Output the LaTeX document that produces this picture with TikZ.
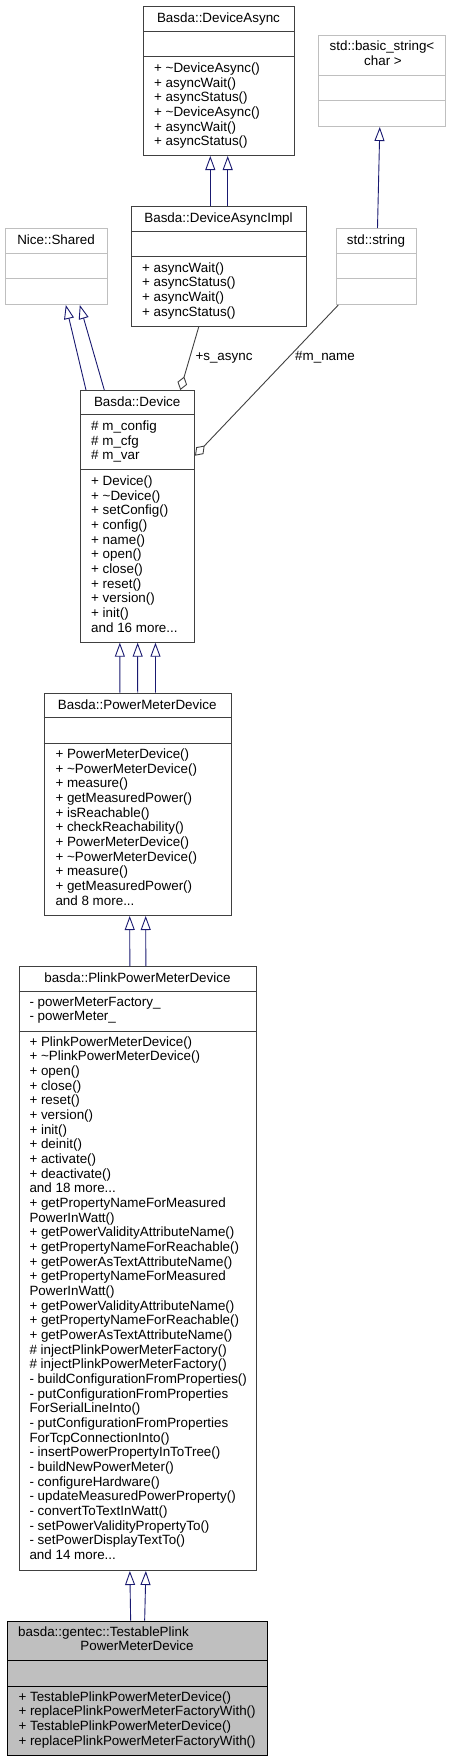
\documentclass[tikz,border=0pt]{standalone}
\usepackage{fontspec}
\setmainfont{Liberation Sans}
\usetikzlibrary{arrows.meta,calc}
\definecolor{edgeblue}{RGB}{25,25,112}
\definecolor{docline}{RGB}{64,64,64}
\definecolor{extline}{RGB}{191,191,191}
\newcommand{\threedots}{...}
\begin{document}
\begin{tikzpicture}[x=1pt, y=-1pt, line cap=butt, line join=miter]
	\tikzset{
		box_base/.style={line width=1pt, inner sep=0pt, anchor=north west},
		doc_box/.style={box_base, draw=docline, fill=white}, % documented class
		ext_box/.style={box_base, draw=extline, fill=white}, % external class
		cur_box/.style={box_base, draw=black, fill=extline}, % the class itself
		sep_doc/.style={line width=1pt, draw=docline},
		sep_ext/.style={line width=1pt, draw=extline},
		title/.style={inner sep=0pt, text height=9.7pt, text depth=2.8pt, font=\fontsize{13.4}{14.67}\selectfont},
		member/.style={title, anchor=west},
		inherit/.style={draw=edgeblue, line width=0.9pt, -{Triangle[open, length=14pt, width=10pt]}},
		aggr/.style={draw=docline, line width=0.9pt, -{Diamond[open, length=14pt, width=10pt]}}
	}
	\useasboundingbox (0,0) rectangle (450,1761);

	% Basda::DeviceAsync
	\node[doc_box, minimum width=151pt, minimum height=149pt] (async) at (143,6) {};
	\draw[sep_doc] ($(async.north west)+(0,25.7)$) -- ($(async.north east)+(0,25.7)$);
	\draw[sep_doc] ($(async.north west)+(0,50.7)$) -- ($(async.north east)+(0,50.7)$);
	\node[title] (async-t) at (218.5,19) {Basda::DeviceAsync};
	\foreach \txt [count=\i from 0] in {+ \textasciitilde DeviceAsync(), + asyncWait(), + asyncStatus(),
		+ \textasciitilde DeviceAsync(), + asyncWait(), + asyncStatus()}
		\node[member] (async-m\i) at (154,69+14.67*\i) {\txt};

	% std::basic_string< char >
	\node[ext_box, minimum width=127pt, minimum height=91pt] (bstr) at (318,35) {};
	\draw[sep_ext] ($(bstr.north west)+(0,40.3)$) -- ($(bstr.north east)+(0,40.3)$);
	\draw[sep_ext] ($(bstr.north west)+(0,65.3)$) -- ($(bstr.north east)+(0,65.3)$);
	\node[title] (bstr-t1) at (382,47.5) {std::basic\_string<};
	\node[title] (bstr-t2) at (383,62.5) {char >};

	% Basda::DeviceAsyncImpl
	\node[doc_box, minimum width=175pt, minimum height=120pt] (dai) at (131,206) {};
	\draw[sep_doc] ($(dai.north west)+(0,25)$) -- ($(dai.north east)+(0,25)$);
	\draw[sep_doc] ($(dai.north west)+(0,50.7)$) -- ($(dai.north east)+(0,50.7)$);
	\node[title] (dai-t) at (218.5,219) {Basda::DeviceAsyncImpl};
	\foreach \txt [count=\i from 0] in {+ asyncWait(), + asyncStatus(), + asyncWait(), + asyncStatus()}
		\node[member] (dai-m\i) at (142,268.7+14.67*\i) {\txt};

	% Nice::Shared
	\node[ext_box, minimum width=102pt, minimum height=76pt] (shared) at (5,228) {};
	\draw[sep_ext] ($(shared.north west)+(0,25.3)$) -- ($(shared.north east)+(0,25.3)$);
	\draw[sep_ext] ($(shared.north west)+(0,50.7)$) -- ($(shared.north east)+(0,50.7)$);
	\node[title] (shared-t) at (56,241) {Nice::Shared};

	% std::string
	\node[ext_box, minimum width=80pt, minimum height=76pt] (str) at (336,228) {};
	\draw[sep_ext] ($(str.north west)+(0,25.3)$) -- ($(str.north east)+(0,25.3)$);
	\draw[sep_ext] ($(str.north west)+(0,50.7)$) -- ($(str.north east)+(0,50.7)$);
	\node[title] (str-t) at (376,241) {std::string};

	% Basda::Device
	\node[doc_box, minimum width=113.7pt, minimum height=251.7pt] (dev) at (80.3,390) {};
	\draw[sep_doc] ($(dev.north west)+(0,24.7)$) -- ($(dev.north east)+(0,24.7)$);
	\draw[sep_doc] ($(dev.north west)+(0,79.3)$) -- ($(dev.north east)+(0,79.3)$);
	\node[title] (dev-t) at (137.2,402.8) {Basda::Device};
	\foreach \txt [count=\i from 0] in {\# m\_config, \# m\_cfg, \# m\_var}
		\node[member] (dev-a\i) at (91,427+14.67*\i) {\txt};
	\foreach \txt [count=\i from 0] in {+ Device(), + \textasciitilde Device(), + setConfig(), + config(),
		+ name(), + open(), + close(), + reset(), + version(), + init(), and 16 more\threedots}
		\node[member] (dev-m\i) at (91,482+14.67*\i) {\txt};

	% Basda::PowerMeterDevice
	\node[doc_box, minimum width=187pt, minimum height=222.3pt] (pmd) at (43.7,692.7) {};
	\draw[sep_doc] ($(pmd.north west)+(0,25)$) -- ($(pmd.north east)+(0,25)$);
	\draw[sep_doc] ($(pmd.north west)+(0,50.6)$) -- ($(pmd.north east)+(0,50.6)$);
	\node[title] (pmd-t) at (137.2,705.7) {Basda::PowerMeterDevice};
	\foreach \txt [count=\i from 0] in {+ PowerMeterDevice(), + \textasciitilde PowerMeterDevice(), + measure(),
		+ getMeasuredPower(), + isReachable(), + checkReachability(), + PowerMeterDevice(),
		+ \textasciitilde PowerMeterDevice(), + measure(), + getMeasuredPower(), and 8 more\threedots}
		\node[member] (pmd-m\i) at (55.3,755+14.67*\i) {\txt};

	% basda::PlinkPowerMeterDevice
	\node[doc_box, minimum width=237.3pt, minimum height=604pt] (plink) at (18.7,966) {};
	\draw[sep_doc] ($(plink.north west)+(0,25)$) -- ($(plink.north east)+(0,25)$);
	\draw[sep_doc] ($(plink.north west)+(0,65)$) -- ($(plink.north east)+(0,65)$);
	\node[title] (plink-t) at (137.4,979) {basda::PlinkPowerMeterDevice};
	\foreach \txt [count=\i from 0] in {- powerMeterFactory\_, - powerMeter\_}
		\node[member] (plink-a\i) at (29.3,1002.7+14.67*\i) {\txt};
	\foreach \txt [count=\i from 0] in {+ PlinkPowerMeterDevice(), + \textasciitilde PlinkPowerMeterDevice(),
		+ open(), + close(), + reset(), + version(), + init(), + deinit(), + activate(),
		+ deactivate(), and 18 more\threedots, + getPropertyNameForMeasured, PowerInWatt(),
		+ getPowerValidityAttributeName(), + getPropertyNameForReachable(),
		+ getPowerAsTextAttributeName(), + getPropertyNameForMeasured, PowerInWatt(),
		+ getPowerValidityAttributeName(), + getPropertyNameForReachable(),
		+ getPowerAsTextAttributeName(), \# injectPlinkPowerMeterFactory(),
		\# injectPlinkPowerMeterFactory(), - buildConfigurationFromProperties(),
		- putConfigurationFromProperties, ForSerialLineInto(),
		- putConfigurationFromProperties, ForTcpConnectionInto(),
		- insertPowerPropertyInToTree(), - buildNewPowerMeter(), - configureHardware(),
		- updateMeasuredPowerProperty(), - convertToTextInWatt(),
		- setPowerValidityPropertyTo(), - setPowerDisplayTextTo(), and 14 more\threedots}
		\node[member] (plink-m\i) at (29.3,1042.7+14.67*\i) {\txt};

	% basda::gentec::TestablePlinkPowerMeterDevice
	\node[cur_box, minimum width=260.3pt, minimum height=134.3pt] (test) at (7,1620.7) {};
	\draw[line width=1pt] ($(test.north west)+(0,40)$) -- ($(test.north east)+(0,40)$);
	\draw[line width=1pt] ($(test.north west)+(0,65.3)$) -- ($(test.north east)+(0,65.3)$);
	\node[member] (test-t1) at (18,1633.5) {basda::gentec::TestablePlink};
	\node[title] (test-t2) at (137,1647.5) {PowerMeterDevice};
	\foreach \txt [count=\i from 0] in {+ TestablePlinkPowerMeterDevice(), + replacePlinkPowerMeterFactoryWith(),
		+ TestablePlinkPowerMeterDevice(), + replacePlinkPowerMeterFactoryWith()}
		\node[member] (test-m\i) at (18.3,1697.7+14.67*\i) {\txt};

	% inheritance
	\foreach \dx in {-8.7, 8.7}
		\draw[inherit] ($(dai.north)+(\dx,0)$) -- ($(async.south)+(\dx,0)$);
	\draw[inherit] ($(str.north)+(1,0)$) -- ($(bstr.south)+(-2.2,0)$);
	\draw[inherit] ($(dev.north west)+(5.7,0)$) -- ($(shared.south)+(9.3,0)$);
	\draw[inherit] ($(dev.north west)+(24,0)$) -- ($(shared.south)+(23.3,0)$);
	\foreach \dx in {-17.8, 0, 17.8}
		\draw[inherit] ($(pmd.north)+(\dx,0)$) -- ($(dev.south)+(\dx,0)$);
	\foreach \dx in {-8, 8}
		\draw[inherit] ($(plink.north)+(\dx,0)$) -- ($(pmd.south)+(\dx,0)$);
	\draw[inherit] ($(test.north)+(-7,0)$) -- ($(plink.south)+(-8,0)$);
	\draw[inherit] ($(test.north)+(7,0)$) -- ($(plink.south)+(8,0)$);

	% aggregation
	\draw[aggr] ($(dai.south west)+(67.7,0)$) -- ($(dev.north east)+(-14.7,0)$);
	\node[title] (async-lbl) at (224,357) {+s\_async};
	\draw[aggr] ($(str.south west)+(2.3,0)$) -- ($(dev.north east)+(0,65.7)$);
	\node[title] (name-lbl) at (325,357) {\#m\_name};
\end{tikzpicture}
\end{document}
